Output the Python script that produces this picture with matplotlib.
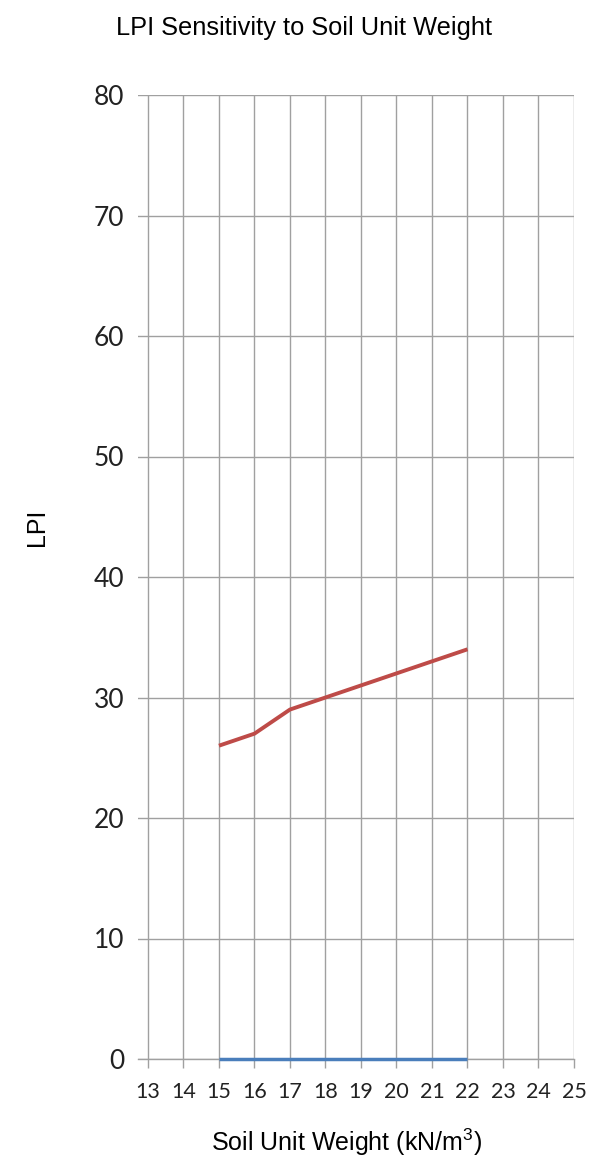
import matplotlib.pyplot as plt
import numpy as np

# values
unit_weight = [15, 16, 17, 18, 19, 20, 21, 22]
lpi_red = [26, 27, 29, 30, 31, 32, 33, 34]
lpi_blue = [0, 0, 0, 0, 0, 0, 0, 0]
x_ticks = list(range(13, 26))
y_ticks = list(range(0, 81, 10))

plt.rcParams["mathtext.fontset"] = "custom"
plt.rcParams["mathtext.rm"] = "Liberation Sans"

fig = plt.figure(figsize=(6.09, 11.63), dpi=100)
ax = fig.add_axes([138 / 609, 1 - 1059 / 1163, 436 / 609, 964 / 1163])

grid_col = "#a0a0a0"

ax.plot(unit_weight, lpi_blue, color="#4a7ebb", lw=2.5, solid_capstyle="butt",
        zorder=3, clip_on=False)
ax.plot(unit_weight, lpi_red, color="#be4b48", lw=2.8, solid_joinstyle="round",
        solid_capstyle="butt", zorder=3)

ax.set_xlim(12.72, 25)
ax.set_ylim(0, 80)
ax.set_xticks(x_ticks)
ax.set_yticks(y_ticks)
ax.grid(True, color=grid_col, lw=1.0)
ax.set_axisbelow(True)

for s in ["left", "top", "right"]:
    ax.spines[s].set_visible(False)
ax.spines["bottom"].set_color(grid_col)
ax.spines["bottom"].set_linewidth(1.0)

ax.tick_params(axis="x", direction="out", length=6.5, width=1.0, color=grid_col,
               pad=10, labelsize=15.5, labelcolor="#222222")
ax.tick_params(axis="y", length=0, pad=10, labelsize=19, labelcolor="#222222")
for lab in ax.get_xticklabels() + ax.get_yticklabels():
    lab.set_fontfamily("Lato")

fig.text(0.5, 1 - 28 / 1163, "LPI Sensitivity to Soil Unit Weight",
         ha="center", va="center", fontsize=18.3, family="Liberation Sans")
fig.text(37 / 609, 1 - 527 / 1163, "LPI", rotation=90, ha="center", va="center",
         fontsize=18, family="Liberation Sans")
fig.text(346 / 609, 1 - 1142 / 1163, r"Soil Unit Weight (kN/m$^3$)",
         ha="center", va="center", fontsize=18, family="Liberation Sans")

fig.savefig("out.png", dpi=100)
